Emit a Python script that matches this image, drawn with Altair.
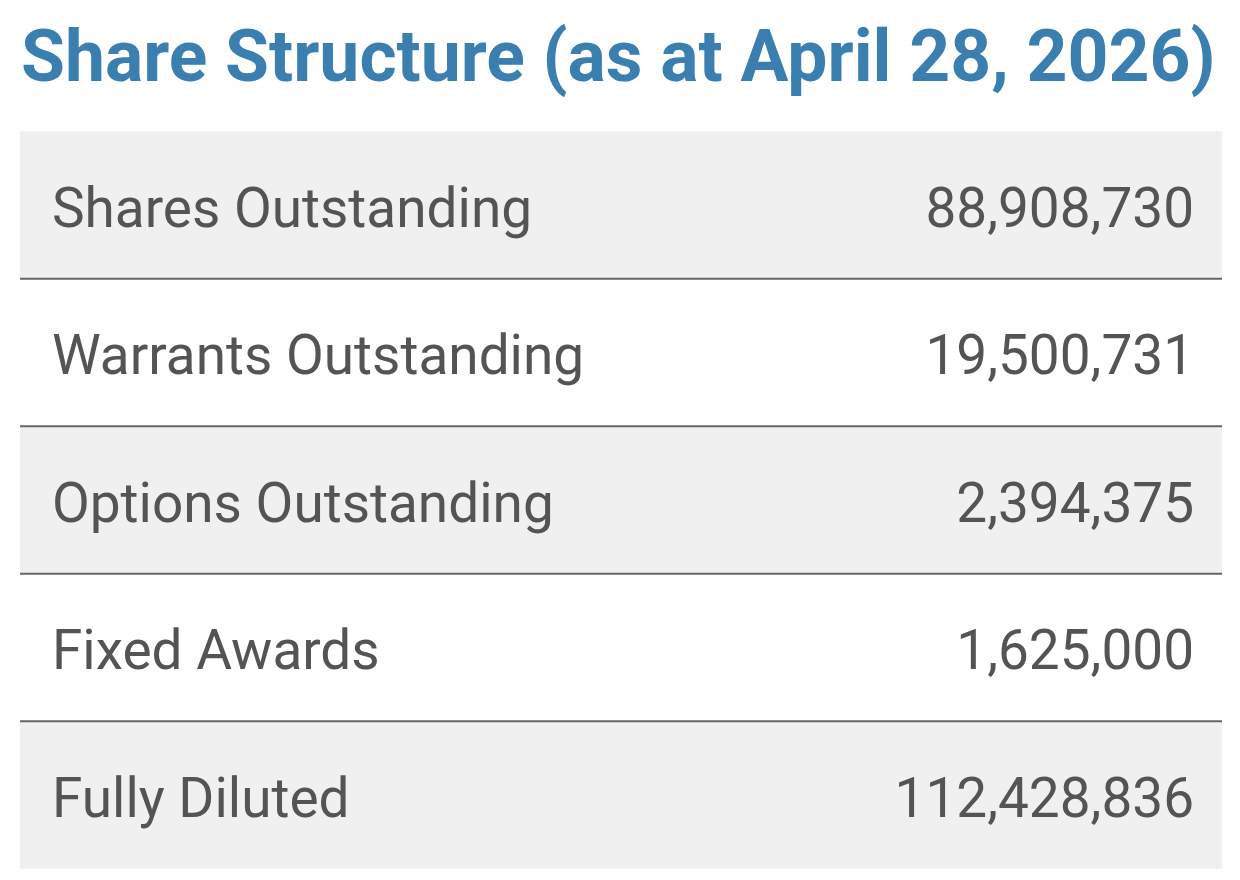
import altair as alt
import pandas as pd

title_text = "Share Structure (as at April 28, 2026)"
labels = ["Shares Outstanding", "Warrants Outstanding", "Options Outstanding", "Fixed Awards", "Fully Diluted"]
values = [88908730, 19500731, 2394375, 1625000, 112428836]

df = pd.DataFrame({
    "label": labels,
    "value": values,
    "row": list(range(len(labels))),
})
df["shade"] = ["grey" if i % 2 == 0 else "white" for i in df["row"]]
df["xl"] = 0.0
df["xr"] = 1.0

FONT = "Roboto"
TEXT_COLOR = "#545454"

yscale = alt.Scale(domain=labels, paddingInner=0, paddingOuter=0)
xscale = alt.Scale(domain=[0, 1])

base = alt.Chart(df)

rects = base.mark_rect().encode(
    y=alt.Y("label:N", scale=yscale, axis=None),
    color=alt.Color("shade:N", scale=alt.Scale(domain=["grey", "white"], range=["#f0f0f0", "#ffffff"]), legend=None),
)

rules = base.transform_filter("datum.row > 0").mark_rule(color="#666666", strokeWidth=2).encode(
    y=alt.Y("label:N", scale=yscale, axis=None, bandPosition=0),
)

left_text = base.mark_text(align="left", baseline="middle", dx=32, dy=5, font=FONT, fontSize=55, color=TEXT_COLOR).encode(
    y=alt.Y("label:N", scale=yscale, axis=None),
    x=alt.X("xl:Q", scale=xscale, axis=None),
    text="label:N",
)

right_text = base.mark_text(align="right", baseline="middle", dx=-28, dy=5, font=FONT, fontSize=55, color=TEXT_COLOR).encode(
    y=alt.Y("label:N", scale=yscale, axis=None),
    x=alt.X("xr:Q", scale=xscale, axis=None),
    text=alt.Text("value:Q", format=",d"),
)

chart = alt.layer(rects, rules, left_text, right_text).properties(
    width=1203,
    height=738,
    title=alt.Title(
        title_text,
        anchor="start",
        font=FONT,
        fontSize=71.5,
        fontWeight="bold",
        color="#3a7fb0",
        baseline="alphabetic",
        offset=41,
        dx=2,
        dy=62,
    ),
    padding={"left": 12, "top": 123, "right": 10, "bottom": 4},
    autosize=alt.AutoSizeParams(type="none"),
).configure_view(stroke=None)

chart.save("out.html", embed_options={"renderer": "svg", "actions": False})
